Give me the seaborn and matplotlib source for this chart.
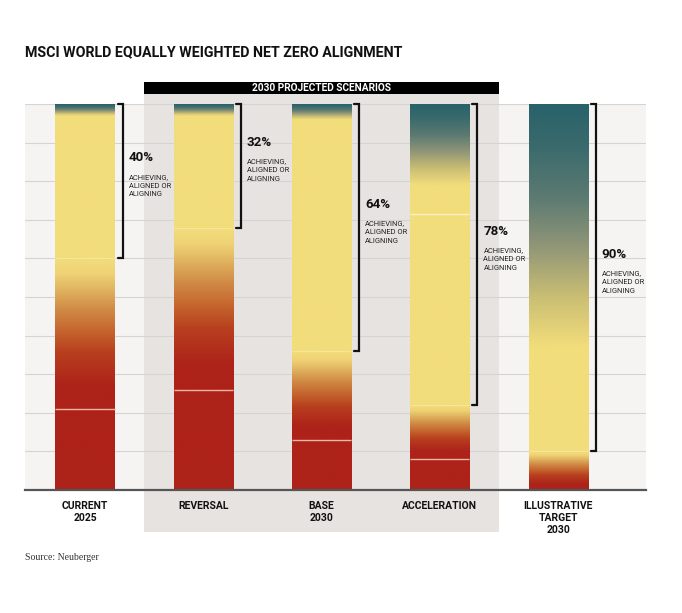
import numpy as np
import pandas as pd
import matplotlib
matplotlib.use("Agg")
import matplotlib.pyplot as plt
import matplotlib.transforms as mtransforms
from matplotlib.colors import LinearSegmentedColormap, to_rgb
from matplotlib.patches import Rectangle
import seaborn as sns

# ---------------------------------------------------------------------------
# Data (share of index, %)
# ---------------------------------------------------------------------------
scenarios = ["CURRENT\n2025", "REVERSAL", "BASE\n2030", "ACCELERATION",
             "ILLUSTRATIVE\nTARGET\n2030"]
not_aligned = [21, 26, 13, 8, 0]        # solid red
transitioning = [39, 42, 23, 14, 10]    # red -> yellow blend
aligning = [37, 29, 60, 57, 27]         # flat yellow
achieving = [3, 3, 4, 21, 63]           # yellow -> teal blend
aligned_share = [40, 32, 64, 78, 90]    # bracket labels
extra_splits = [[], [], [], [71.5], []]

# ---------------------------------------------------------------------------
# Styling
# ---------------------------------------------------------------------------
sns.set_theme(style="white")
plt.rcParams["font.family"] = ["Roboto", "DejaVu Sans"]

RED = "#ad2219"
YELLOW = "#f2dd7b"
TEAL = "#28626a"
PLOT_BG = "#f5f4f2"
SHADE = "#e7e3e0"

warm = LinearSegmentedColormap.from_list(
    "warm", [(0, RED), (0.15, RED), (0.38, "#b8401f"), (0.51, "#c4632d"),
             (0.66, "#d08a45"), (0.79, "#e0b25f"), (0.9, "#efd275"), (1, YELLOW)])
cool = LinearSegmentedColormap.from_list(
    "cool", [(0, YELLOW), (0.2, "#cbbf74"), (0.42, "#8f9577"), (0.62, "#5b7a72"),
             (0.83, "#3a6a6c"), (1, TEAL)])

df = pd.DataFrame({
    "scenario": scenarios,
    "total": np.add.reduce([not_aligned, transitioning, aligning, achieving]),
})

fig = plt.figure(figsize=(6.82, 6.13), dpi=100)
ax = fig.add_axes([25 / 682, 1 - 490 / 613, (646 - 25) / 682, (490 - 104) / 613])
ax.set_facecolor(PLOT_BG)

sns.barplot(data=df, x="scenario", y="total", color=YELLOW, width=0.5,
            errorbar=None, saturation=1, ax=ax)
bars = ax.containers[0]

# gradient fill of each bar, clipped to the seaborn bar
ys = np.linspace(0, 100, 1001)
for i, patch in enumerate(bars):
    patch.set_edgecolor("none")
    r = not_aligned[i]
    t = r + transitioning[i]
    a = t + aligning[i]
    col = np.zeros((len(ys), 3))
    for k, y in enumerate(ys):
        if y < r:
            col[k] = to_rgb(RED)
        elif y < t:
            col[k] = warm((y - r) / transitioning[i])[:3]
        elif y < a:
            col[k] = to_rgb(YELLOW)
        else:
            col[k] = cool((y - a) / max(achieving[i], 1e-6))[:3]
    x0, w = patch.get_x(), patch.get_width()
    img = ax.imshow(col[:, None, :], extent=(x0, x0 + w, 0, 100), origin="lower",
                    aspect="auto", interpolation="bilinear", zorder=2)
    img.set_clip_path(patch)

    if r > 0:
        ax.hlines(r, x0, x0 + w, color="#f4b6a6", lw=1.0, zorder=3)
    ax.hlines(t, x0, x0 + w, color="#f8e9a6", lw=0.8, zorder=3, alpha=0.8)
    for s in extra_splits[i]:
        ax.hlines(s, x0, x0 + w, color="#fbf1c6", lw=1.0, zorder=3)

    # bracket over the aligned share
    bx = x0 + w + 8 / 118.3
    tick = 5 / 118.3
    ax.plot([bx - tick, bx, bx, bx - tick], [t, t, 100, 100], color="#111111",
            lw=1.6, zorder=3, clip_on=False, solid_joinstyle="miter")
    mid = (t + 100) / 2
    ax.annotate(f"{aligned_share[i]}%", xy=(bx, mid), xytext=(4.3, 16.8),
                textcoords="offset points", fontsize=9.6, weight="bold",
                va="center", ha="left", color="#111111")
    ax.annotate("ACHIEVING,\nALIGNED OR\nALIGNING", xy=(bx, mid), xytext=(4.3, -3.6),
                textcoords="offset points", fontsize=5.4, va="center", ha="left",
                linespacing=1.35, color="#222222")

# shaded projected-scenario block + header
blend = mtransforms.blended_transform_factory(ax.transData, ax.transAxes)
ax.add_patch(Rectangle((0.5, (490 - 532) / 386), 3.0, (532 - 82) / 386,
                       transform=blend, color=SHADE, zorder=0.1, clip_on=False, lw=0))
ax.add_patch(Rectangle((0.5, (490 - 94) / 386), 3.0, 12 / 386,
                       transform=blend, color="black", zorder=4, clip_on=False, lw=0))
ax.text(2, (490 - 88) / 386, "2030 PROJECTED SCENARIOS", transform=blend,
        color="white", fontsize=7.3, weight="bold", ha="center", va="center", zorder=5)

# axes cosmetics
ax.set_xlim(-60 / 118.3, 561 / 118.3)
ax.set_ylim(0, 100)
ax.set_yticks(np.arange(0, 101, 10))
ax.set_axisbelow(True)
ax.yaxis.grid(True, color="#d6d4d2", lw=0.8)
ax.xaxis.grid(False)
ax.tick_params(axis="y", left=False, labelleft=False)
ax.set_xticks(range(len(scenarios)))
ax.set_xticklabels(scenarios, fontsize=7.5, weight="bold", linespacing=1.2, color="#111111")
ax.tick_params(axis="x", length=0, pad=8.2)
ax.set_xlabel("")
ax.set_ylabel("")
for side in ["top", "left", "right"]:
    ax.spines[side].set_visible(False)
ax.spines["bottom"].set_color("#555555")
ax.spines["bottom"].set_linewidth(1.6)
ax.spines["bottom"].set_zorder(5)

fig.text(25 / 682, 1 - 52 / 613, "MSCI WORLD EQUALLY WEIGHTED NET ZERO ALIGNMENT",
         fontsize=10.3, weight="bold", va="center", ha="left", color="#111111")
fig.text(25 / 682, 1 - 558 / 613, "Source: Neuberger", family="Liberation Serif",
         fontsize=7, va="center", ha="left", color="#333333")

fig.savefig("out.png", dpi=100, facecolor="white")
